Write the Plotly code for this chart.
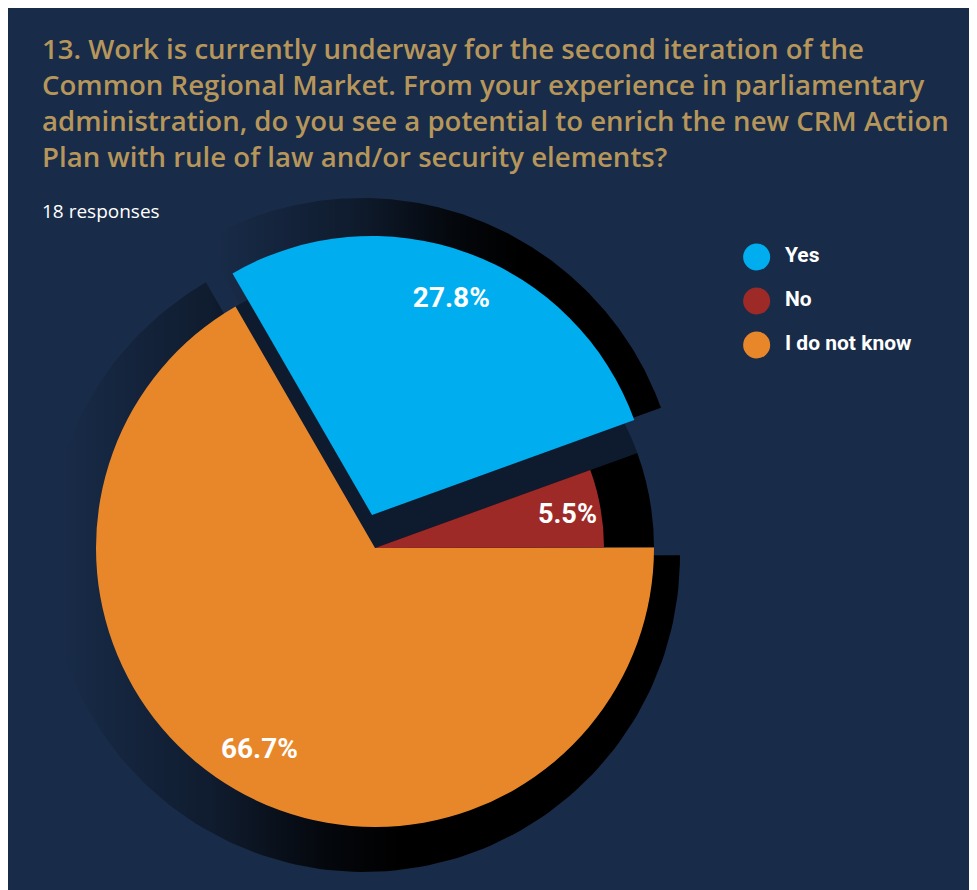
import numpy as np
import plotly.graph_objects as go

W, H = 977, 890
OFF = 8  # page body margin: screen px = figure px + OFF

# ---------------- data ----------------
labels = ["Yes", "No", "I do not know"]
values = [27.8, 5.5, 66.7]
colors = ["#00aeef", "#9e2a27", "#e8872a"]
title_lines = [
    "13. Work is currently underway for the second iteration of the",
    "Common Regional Market. From your experience in parliamentary",
    "administration, do you see a potential to enrich the new CRM Action",
    "Plan with rule of law and/or security elements?",
]
subtitle = "18 responses"

# ---------------- style / geometry (screen px) ----------------
NAVY = "#182b48"
GOLD = "#b6965a"
T = "rgba(0,0,0,0)"
ROTATION = -30                 # first slice starts 30 deg left of 12 o'clock
START = 90 - ROTATION          # same start in math degrees
PIE_C = (375, 548); R = 279    # main pie centre / radius
YES_C = (372, 515)             # exploded "Yes" slice apex
NO_R = 229                     # smaller radius of the "No" slice
LABEL_FONT = dict(family="Roboto", size=28, color="white", weight="bold")

total = sum(values)
bounds = []
a = START
for v in values:
    b = a - 360 * v / total
    bounds.append((a, b))
    a = b

pct = [f"{v:.1f}%" for v in values]


def dom(cx, cy, r, pull=0.0):
    cx, cy = cx - OFF, cy - OFF
    half = r * (1 + pull)
    return dict(x=[(cx - half) / W, (cx + half) / W],
                y=[(H - cy - half) / H, (H - cy + half) / H])


def wedge(cx, cy, r, a0, a1, n=160):
    t = np.radians(np.linspace(a0, a1, n))
    xs = np.concatenate([[cx], cx + r * np.cos(t), [cx]])
    ys = np.concatenate([[cy], cy - r * np.sin(t), [cy]])
    return xs, ys


def pie(colors_, domain, text=None, hole=0, hover=False):
    return go.Pie(
        labels=labels, values=values, sort=False, direction="clockwise",
        rotation=ROTATION, domain=domain, hole=hole,
        marker=dict(colors=colors_, line=dict(width=0)),
        text=text if text is not None else [""] * len(values),
        textinfo="text" if text is not None else "none",
        textposition="inside", insidetextorientation="horizontal",
        insidetextfont=LABEL_FONT,
        hoverinfo="label+percent" if hover else "skip",
        showlegend=False,
    )


fig = go.Figure()

# ---- drop shadows (horizontal gradient fills) ----
shadow_specs = [
    # slice index, apex x, apex y, radius, gradient start, gradient stop
    (2, 364, 556, 316, 60, 400),
    (0, 362, 516, 318, 215, 520),
]
for idx, sx, sy, sr, g0, g1 in shadow_specs:
    a0, a1 = bounds[idx]
    xs, ys = wedge(sx, sy, sr, a0, a1)
    fig.add_trace(go.Scatter(
        x=xs, y=ys, mode="lines", line=dict(width=0, color=T),
        fill="toself",
        fillgradient=dict(type="horizontal", start=g0, stop=g1,
                          colorscale=[[0, "rgba(0,0,0,0)"], [0.45, "rgba(0,0,0,0.36)"],
                                      [0.8, "rgba(0,0,0,0.85)"], [1, "rgba(0,0,0,1)"]]),
        hoverinfo="skip", showlegend=False, xaxis="x", yaxis="y",
    ))

# ---- pies ----
fig.add_trace(pie(["#0e1b2f", "#000000", colors[2]], dom(*PIE_C, R), hover=True))
fig.add_trace(pie([colors[0], T, T], dom(*YES_C, R), hover=True))
fig.add_trace(pie([T, colors[1], T], dom(*PIE_C, NO_R),
                  text=["", pct[1], ""], hover=True))
fig.add_trace(pie([T, T, T], dom(*YES_C, R), text=[pct[0], "", ""], hole=0.66))
fig.add_trace(pie([T, T, T], dom(*PIE_C, R), text=["", "", pct[2]], hole=0.66))

# ---- legend (circle markers) ----
fig.add_trace(go.Scatter(
    x=[0] * len(labels), y=list(range(len(labels))),
    mode="markers+text",
    marker=dict(size=27, color=colors, line=dict(width=0)),
    text=["\u00a0\u00a0" + l for l in labels],
    textposition="middle right",
    textfont=dict(family="Roboto", size=21, color="white", weight="bold"),
    cliponaxis=False, hoverinfo="skip", showlegend=False,
    xaxis="x2", yaxis="y2",
))

fig.update_layout(
    width=W, height=H,
    margin=dict(l=0, r=0, t=0, b=0),
    paper_bgcolor=NAVY, plot_bgcolor="rgba(0,0,0,0)",
    showlegend=False,
    xaxis=dict(domain=[0, 1], range=[OFF, W + OFF], visible=False, fixedrange=True),
    yaxis=dict(domain=[0, 1], range=[H + OFF, OFF], visible=False, fixedrange=True),
    xaxis2=dict(domain=[(697 - OFF) / W, 1], range=[-58, 222], visible=False, fixedrange=True),
    yaxis2=dict(domain=[(H - 389 + OFF) / H, (H - 213 + OFF) / H], range=[3, -1],
                visible=False, fixedrange=True),
    annotations=[
        dict(text="<br>".join(title_lines), xref="paper", yref="paper",
             x=(40 - OFF) / W, y=1 - (27 - OFF) / H, xanchor="left", yanchor="top",
             align="left", showarrow=False,
             font=dict(family="Open Sans", size=27.6, color=GOLD, weight=600)),
        dict(text=subtitle, xref="paper", yref="paper",
             x=(40 - OFF) / W, y=1 - (211 - OFF) / H, xanchor="left", yanchor="middle",
             align="left", showarrow=False,
             font=dict(family="Open Sans", size=19, color="white", weight=500)),
    ],
)

fig.write_html("out.html")
